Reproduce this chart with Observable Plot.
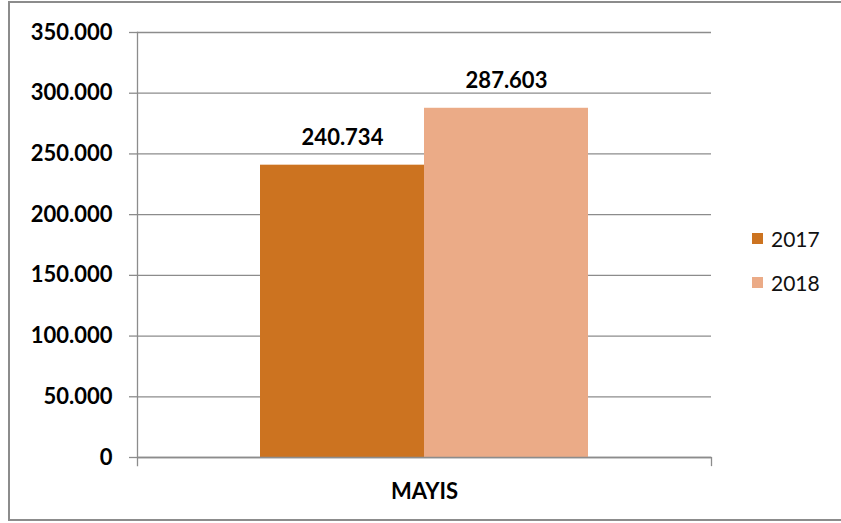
<!DOCTYPE html>
<html><head><meta charset="utf-8">
<script src="https://cdn.jsdelivr.net/npm/d3@7"></script>
<script src="https://cdn.jsdelivr.net/npm/@observablehq/plot@0.6"></script>
<style>
body{margin:0;background:#fff;font-family:Lato,"DejaVu Sans",sans-serif;}
#wrap{position:relative;width:841px;height:523px;overflow:hidden;}
#border{position:absolute;left:8px;top:1px;width:900px;height:516px;border:2px solid #8c8c8c;}
#chart{position:absolute;left:0;top:0;}
.lg{position:absolute;left:752px;height:22px;display:flex;align-items:center;font-size:21px;color:#111;}
.sw{width:11px;height:11px;margin-right:8px;}
</style></head><body>
<div id="wrap"><div id="border"></div><div id="chart"></div></div>
<script>
const months = ["MAYIS"];
const years = ["2017", "2018"];
const values = [240734, 287603];
const colors = ["#CC7320", "#EBAB87"];
const yTicks = [0, 50000, 100000, 150000, 200000, 250000, 300000, 350000];

const data = years.map((y, i) => ({month: months[0], year: y, value: values[i]}));
const fmt = d => d3.format(",")(d).replace(/,/g, ".");
const grey = "#8c8c8c";

const chart = Plot.plot({
  width: 841, height: 523,
  marginLeft: 137, marginRight: 130, marginTop: 32, marginBottom: 66,
  style: {background: "transparent", fontFamily: "Lato, 'DejaVu Sans', sans-serif", color: "#000"},
  fx: {domain: months, padding: 0, label: null},
  x: {domain: years, paddingInner: 0, paddingOuter: 0.745, axis: null},
  y: {domain: [0, 350000]},
  color: {domain: years, range: colors},
  marks: [
    Plot.gridY(yTicks, {stroke: grey, strokeOpacity: 1, strokeWidth: 1.3}),
    Plot.axisY(yTicks, {tickFormat: fmt, tickSize: 8, tickPadding: 17, fontSize: 22, fontWeight: "bold", stroke: grey, strokeWidth: 1.3, label: null}),
    Plot.barY(data, {fx: "month", x: "year", y: "value", fill: "year"}),
    Plot.text(data, {fx: "month", x: "year", y: "value", text: d => fmt(d.value), dy: -27, fontSize: 22, fontWeight: "bold", fill: "#000"}),
    Plot.ruleY([0], {stroke: grey, strokeWidth: 1.5}),
    Plot.frame({anchor: "left", stroke: grey, strokeWidth: 1.3, insetBottom: -8}),
    Plot.frame({anchor: "right", stroke: grey, strokeWidth: 1.3, insetTop: 425, insetBottom: -8}),
    Plot.axisFx({anchor: "bottom", tickSize: 0, tickPadding: 26, fontSize: 22, fontWeight: "bold", label: null})
  ]
});
document.getElementById("chart").appendChild(chart);

const wrap = document.getElementById("wrap");
years.forEach((y, i) => {
  const row = document.createElement("div");
  row.className = "lg";
  row.style.top = (227 + i * 44) + "px";
  const sw = document.createElement("div");
  sw.className = "sw";
  sw.style.background = colors[i];
  row.appendChild(sw);
  row.appendChild(document.createTextNode(y));
  wrap.appendChild(row);
});
</script>
</body></html>
